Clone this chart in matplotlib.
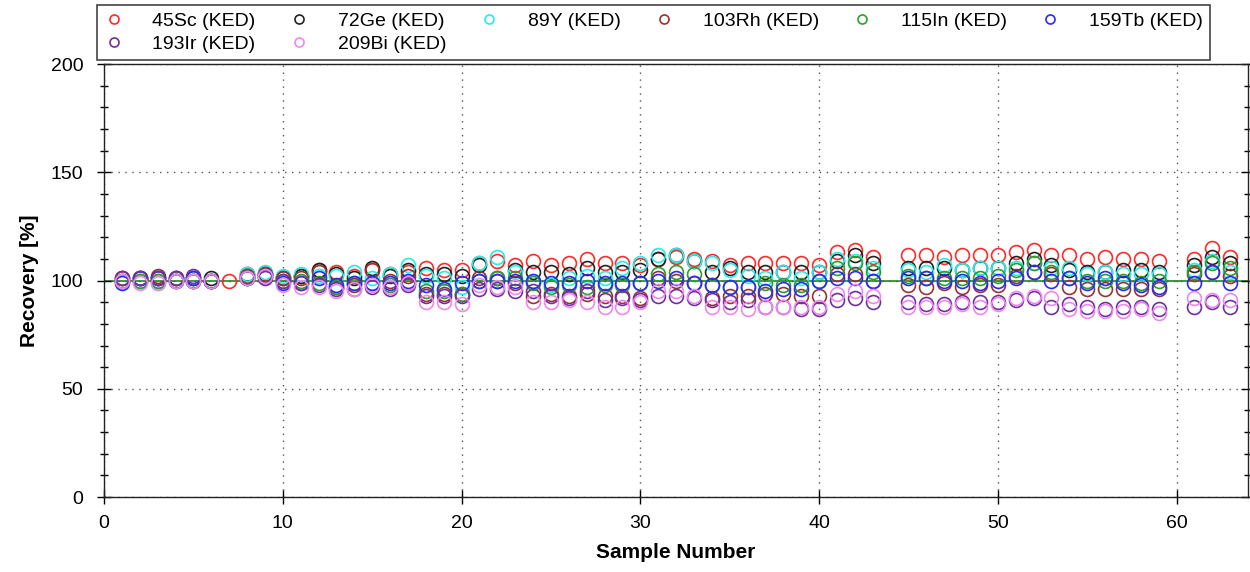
import numpy as np
import matplotlib
matplotlib.use("Agg")
from matplotlib import pyplot as plt
from matplotlib.ticker import MultipleLocator

nan = np.nan
samples = np.arange(1, 64)

# recovery values [%] per internal standard, sample 1..63
sc45 = [101, 100, 100, 100, 100, 100, 100, 102, 103, 101, 102, 105, 104, 102, 105, 103, 104, 106, 105, 105,
        108, 109, 107, 109, 107, 108, 110, 108, 108, 107, 110, 111, 110, 109, 107, 108, 108, 108, 108, 107,
        113, 114, 111, nan, 112, 112, 111, 112, 112, 112, 113, 114, 112, 112, 110, 111, 110, 110, 109, nan,
        110, 115, 111]
ge72 = [100, 101, 101, 101, 101, 101, nan, 103, 103, 101, 102, 105, 103, 101, 106, 102, 105, 103, 103, 102,
        107, 101, 105, 104, 104, 103, 106, 104, 104, 105, 110, 112, 109, 104, 106, 104, 104, 104, 104, 104,
        109, 112, 108, nan, 106, 106, 106, 105, 106, 106, 108, 110, 107, 105, 104, 104, 105, 105, 104, nan,
        107, 111, 108]
y89 = [100, 100, 99, 100, 100, 100, nan, 103, 104, 102, 103, 102, 102, 104, 101, 103, 107, 102, 101, 97,
       108, 111, 104, 100, 98, 101, 102, 101, 106, 108, 112, 112, 109, 108, 105, 102, 101, 104, 101, 104,
       110, 109, 106, nan, 105, 104, 107, 105, 106, 106, 106, 108, 106, 106, 103, 104, 103, 103, 103, nan,
       105, 109, 104]
rh103 = [101, 101, 102, 101, 100, 100, nan, 102, 103, 101, 101, 104, 97, 98, 105, 100, 102, 94, 94, 94,
         101, 100, 99, 93, 94, 93, 94, 93, 93, 92, 101, 100, 99, 92, 93, 93, 94, 94, 93, 93,
         103, 103, 100, nan, 98, 97, 99, 97, 98, 98, 102, 104, 103, 97, 96, 96, 96, 96, 96, nan,
         103, 104, 102]
in115 = [100, 100, 100, 100, 100, 100, nan, 101, 102, 100, 100, 99, 97, 99, 99, 98, 99, 95, 95, 94,
         100, 101, 101, 99, 97, 98, 97, 98, 98, 99, 103, 104, 103, 98, 97, 97, 99, 98, 98, 100,
         106, 108, 104, nan, 102, 101, 101, 101, 101, 102, 105, 108, 104, 101, 100, 100, 100, 99, 100, nan,
         104, 108, 106]
tb159 = [99, 101, 101, 100, 101, 100, nan, 101, 102, 99, 99, 101, 98, 99, 99, 99, 100, 98, 96, 99,
         100, 100, 100, 100, 99, 99, 100, 99, 99, 99, 100, 101, 99, 98, 97, 97, 95, 96, 96, 100,
         101, 101, 100, nan, 101, 101, 100, 100, 99, 100, 101, 104, 100, 101, 99, 101, 99, 98, 97, nan,
         99, 104, 99]
ir193 = [101, 101, 101, 101, 102, 100, nan, 101, 101, 100, 99, 98, 96, 96, 97, 96, 98, 93, 93, 93,
         96, 96, 95, 95, 93, 92, 95, 91, 92, 91, 93, 93, 92, 91, 90, 91, 88, 88, 87, 87,
         91, 92, 90, nan, 90, 89, 89, 90, 90, 90, 91, 92, 88, 89, 88, 87, 88, 88, 87, nan,
         88, 90, 88]
bi209 = [100, 99, 99, 100, 100, 100, nan, 101, 102, 98, 97, 97, 95, 96, 98, 97, 99, 90, 90, 89,
         98, 97, 97, 90, 90, 91, 90, 88, 88, 90, 95, 95, 93, 88, 88, 87, 88, 88, 88, 88,
         94, 95, 93, nan, 88, 88, 88, 89, 88, 89, 92, 93, 92, 87, 86, 86, 86, 87, 85, nan,
         92, 91, 91]

labels = ["45Sc (KED)", "72Ge (KED)", "89Y (KED)", "103Rh (KED)",
          "115In (KED)", "159Tb (KED)", "193Ir (KED)", "209Bi (KED)"]
series = [sc45, ge72, y89, rh103, in115, tb159, ir193, bi209]
colors = ["#ff2a2a", "#222222", "#22eeee", "#993333",
          "#2e9e2e", "#2a2aff", "#7030a0", "#ee88ee"]

plt.rcParams['font.family'] = ['Liberation Sans', 'DejaVu Sans']

fig = plt.figure(figsize=(12.5, 5.72), dpi=100)
ax = fig.add_axes([0.0832, 0.131, 0.9152, 0.757])

ax.axhline(100, color="#1a8a1a", lw=1.2, zorder=1)

handles = []
for vals, c, lab in zip(series, colors, labels):
    h, = ax.plot(samples, vals, ls="none", marker="o", ms=10, mfc="none",
                 mec=c, mew=1.2, label=lab, zorder=3)
    handles.append(h)

ax.set_xlim(0, 64)
ax.set_ylim(0, 200)
ax.xaxis.set_major_locator(MultipleLocator(10))
ax.yaxis.set_major_locator(MultipleLocator(50))
ax.yaxis.set_minor_locator(MultipleLocator(10))
ax.tick_params(which="major", direction="inout", length=10, width=1,
               labelsize=14, right=True)
ax.tick_params(which="minor", direction="inout", length=6, width=1, right=True)
ax.tick_params(axis="y", pad=10)
ax.tick_params(axis="x", pad=8)
ax.grid(True, which="major", ls=(0, (1, 4)), color="#555555", lw=1)

for s in ax.spines.values():
    s.set_color("#222222")
    s.set_linewidth(1)

ax.set_xlabel("Sample Number", fontsize=15, fontweight="bold", labelpad=8)
ax.set_ylabel("Recovery [%]", fontsize=15, fontweight="bold", labelpad=8)

# legend fills column by column, reorder so rows read like the original
order = [0, 6, 1, 7, 2, 3, 4, 5]
leg = fig.legend(handles=[handles[i] for i in order], loc="upper left", ncol=6,
                 mode="expand", bbox_to_anchor=(0.0776, 0.9, 0.89, 0.091),
                 borderaxespad=0, fontsize=14, markerscale=0.65,
                 handlelength=1.0, handletextpad=1.5, borderpad=0.35,
                 labelspacing=0.3, fancybox=False, edgecolor="#444444",
                 framealpha=1)
leg.get_frame().set_linewidth(1.2)

fig.savefig("out.png", dpi=100)
